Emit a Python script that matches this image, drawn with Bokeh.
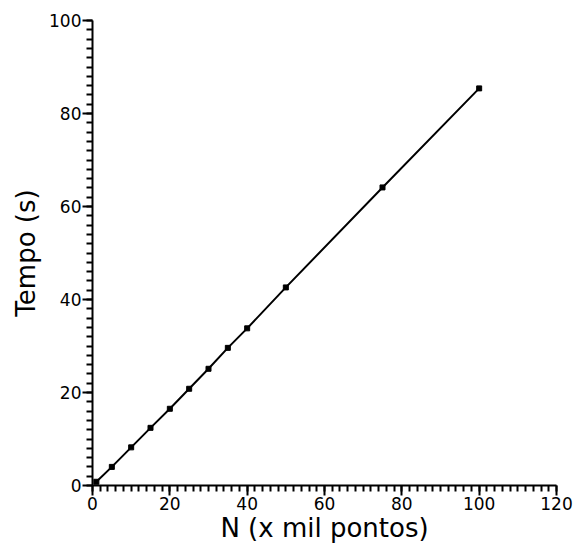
from bokeh.plotting import figure
from bokeh.models import SingleIntervalTicker
from bokeh.embed import file_html
from bokeh.resources import INLINE

# Data
n_mil = [1, 5, 10, 15, 20, 25, 30, 35, 40, 50, 75, 100]
tempo_s = [0.8, 4.0, 8.2, 12.4, 16.5, 20.8, 25.1, 29.6, 33.8, 42.6, 64.1, 85.4]

x_label = "N (x mil pontos)"
y_label = "Tempo (s)"

FONT = "DejaVu Sans"

p = figure(width=573, height=545, output_backend="svg", toolbar_location=None,
           x_range=(0, 120), y_range=(0, 100),
           min_border_left=92, min_border_right=17, min_border_top=20, min_border_bottom=57)
p.outline_line_color = None
p.grid.visible = False
p.background_fill_color = "white"

p.xaxis.ticker = SingleIntervalTicker(interval=20, num_minor_ticks=10)
p.yaxis.ticker = SingleIntervalTicker(interval=20, num_minor_ticks=10)

for ax in (p.xaxis, p.yaxis):
    ax.axis_line_color = "black"
    ax.axis_line_width = 2
    ax.major_tick_line_color = "black"
    ax.minor_tick_line_color = "black"
    ax.major_tick_line_width = 2
    ax.minor_tick_line_width = 2
    ax.major_tick_in = 0
    ax.major_tick_out = 10
    ax.minor_tick_in = 0
    ax.minor_tick_out = 6
    ax.major_label_text_font = FONT
    ax.major_label_text_font_size = "17px"
    ax.major_label_text_color = "black"
    ax.major_label_standoff = 1
    ax.major_label_text_line_height = 0.8
    ax.axis_label_text_font = FONT
    ax.axis_label_text_font_size = "26px"
    ax.axis_label_text_font_style = "normal"
    ax.axis_label_text_color = "black"
    ax.axis_label_text_line_height = 0.85

p.xaxis.axis_label_standoff = 0
p.yaxis.axis_label_standoff = 5
p.xaxis.axis_label = x_label
p.yaxis.axis_label = y_label

p.line(n_mil, tempo_s, line_color="black", line_width=2)
p.scatter(n_mil, tempo_s, marker="square", size=5, color="black")

open("out.html", "w").write(file_html(p, INLINE))
